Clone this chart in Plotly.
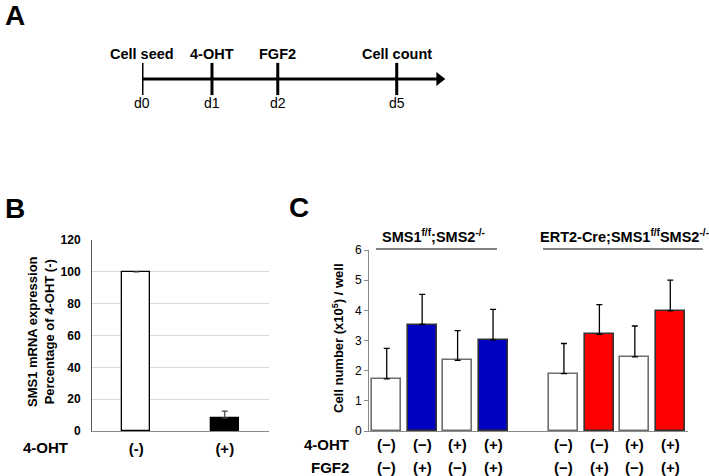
import plotly.graph_objects as go

# ---------------- data ----------------
timeline_events = ["Cell seed", "4-OHT", "FGF2", "Cell count"]
timeline_days = ["d0", "d1", "d2", "d5"]
timeline_pos = [0, 1, 1.94, 3.64]          # schematic positions on the timeline
timeline_end = 4.33

b_categories = ["(-)", "(+)"]
b_values = [100, 8.2]
b_errors = [0, 4.3]
b_colors = ["white", "black"]

c_groups = ["SMS1<sup>f/f</sup>;SMS2<sup>-/-</sup>",
            "ERT2-Cre;SMS1<sup>f/f</sup>SMS2<sup>-/-</sup>"]
c_oht = ["(\u2212)", "(\u2212)", "(+)", "(+)"]
c_fgf2 = ["(\u2212)", "(+)", "(\u2212)", "(+)"]
c_values = [[1.73, 3.53, 2.34, 3.02],
            [1.90, 3.20, 2.46, 3.98]]
c_errors = [[1.01, 1.00, 0.99, 1.01],
            [1.00, 0.99, 1.02, 1.02]]
c_group_colors = ["rgb(0,0,192)", "rgb(255,0,0)"]

# ---------------- layout helpers ----------------
W, H = 709, 476
FONT = "Liberation Sans, Arial, sans-serif"


def px(x):
    return x / W


def py(y):
    return 1 - y / H


def note(text, x, y, size, bold=True, xanchor="center", **kw):
    fig.add_annotation(x=px(x), y=py(y), xref="paper", yref="paper", text=text,
                       xanchor=xanchor, yanchor="middle", showarrow=False,
                       font=dict(size=size, weight="bold" if bold else "normal"), **kw)


fig = go.Figure()

# ---------------- Panel A: timeline ----------------
fig.add_trace(go.Scatter(x=[timeline_pos[0], timeline_end - 0.1], y=[0, 0], mode="lines",
                         line=dict(color="black", width=3), xaxis="x3", yaxis="y3",
                         showlegend=False, hoverinfo="skip"))
fig.add_trace(go.Scatter(x=[timeline_end - 0.08], y=[0], mode="markers",
                         marker=dict(symbol="triangle-right", size=12, color="black"),
                         xaxis="x3", yaxis="y3", showlegend=False, hoverinfo="skip"))
fig.add_trace(go.Scatter(x=timeline_pos, y=[0] * len(timeline_pos), mode="markers",
                         marker=dict(symbol="line-ns", size=23,
                                     line=dict(width=3, color="black")),
                         xaxis="x3", yaxis="y3", showlegend=False, hoverinfo="skip"))
for pos, ev, d in zip(timeline_pos, timeline_events, timeline_days):
    fig.add_annotation(x=pos, y=0, xref="x3", yref="y3", text=ev, showarrow=False,
                       xanchor="center", yanchor="middle",
                       yshift=25, font=dict(size=14.5, weight="bold"))
    fig.add_annotation(x=pos, y=0, xref="x3", yref="y3", text=d, showarrow=False,
                       xanchor="center", yanchor="middle",
                       yshift=-24, font=dict(size=14))

# ---------------- Panel B ----------------
fig.add_trace(go.Bar(x=b_categories, y=b_values, width=0.32,
                     marker=dict(color=b_colors, line=dict(color="black", width=1.3)),
                     error_y=dict(type="data", array=b_errors, arrayminus=[0] * len(b_errors),
                                  symmetric=False, color="#444", thickness=1.2, width=3),
                     xaxis="x", yaxis="y", showlegend=False))

# ---------------- Panel C ----------------
c_cats = []
for gi in range(len(c_groups)):
    if gi > 0:
        c_cats.append("gap")
    for j in range(len(c_oht)):
        c_cats.append(f"{gi}-{j}")

for gi in range(len(c_groups)):
    xs = [f"{gi}-{j}" for j in range(len(c_oht))]
    fills = [c_group_colors[gi] if f == "(+)" else "white" for f in c_fgf2]
    lines = ["#333" if f == "(+)" else "#6e6e6e" for f in c_fgf2]
    fig.add_trace(go.Bar(x=xs, y=c_values[gi], width=0.82,
                         marker=dict(color=fills, line=dict(color=lines, width=1.6)),
                         error_y=dict(type="data", array=c_errors[gi],
                                      arrayminus=[0] * len(c_errors[gi]), symmetric=False,
                                      color="black", thickness=1.3, width=3),
                         xaxis="x2", yaxis="y2", showlegend=False))

c_dom = [px(369), px(688)]


def slot_paper(s):
    return c_dom[0] + (s + 0.5) / len(c_cats) * (c_dom[1] - c_dom[0])


for gi in range(len(c_groups)):
    for j in range(len(c_oht)):
        cat = f"{gi}-{j}"
        fig.add_annotation(x=cat, xref="x2", y=py(444), yref="paper", text=c_oht[j],
                           xanchor="center", yanchor="middle",
                           showarrow=False, font=dict(size=15, weight="bold"))
        fig.add_annotation(x=cat, xref="x2", y=py(467), yref="paper", text=c_fgf2[j],
                           xanchor="center", yanchor="middle",
                           showarrow=False, font=dict(size=15, weight="bold"))

# group header lines and labels
fig.add_shape(type="line", xref="paper", yref="paper", x0=slot_paper(-0.3), x1=slot_paper(3.11),
              y0=py(249), y1=py(249), line=dict(color="black", width=1))
fig.add_shape(type="line", xref="paper", yref="paper", x0=slot_paper(4.41), x1=slot_paper(8.92),
              y0=py(249), y1=py(249), line=dict(color="black", width=1))
note(c_groups[0], 433.5, 236, 14.5)
note(c_groups[1], 538, 236, 14.5, xanchor="left")

# ---------------- text labels ----------------
note("A", 3, 15, 28, xanchor="left")
note("B", 3, 208, 28, xanchor="left")
note("C", 287, 207, 28, xanchor="left")

note("SMS1 mRNA expression<br>Percentage of 4-OHT (-)", 41, 332, 13, textangle=-90)
note("4-OHT", 45.5, 447, 15)

note("Cell number (x10<sup>5</sup>) / well", 338, 338, 13, textangle=-90)
note("4-OHT", 351, 444, 15, xanchor="right")
note("FGF2", 351, 467, 15, xanchor="right")

# ---------------- axes ----------------
fig.update_layout(
    template="none",
    width=W, height=H,
    margin=dict(l=0, r=0, t=0, b=0, pad=0),
    paper_bgcolor="white", plot_bgcolor="white",
    font=dict(family=FONT, color="black"),
    bargap=0,
    xaxis=dict(domain=[px(92), px(269)], range=[-0.5, 1.5], type="category",
               showline=True, linecolor="#8a8a8a", linewidth=1.3, ticks="",
               tickfont=dict(size=15, weight="bold"), ticklabelstandoff=4,
               showgrid=False, zeroline=False, fixedrange=True, automargin=False),
    yaxis=dict(domain=[py(431), py(240)], range=[0, 120], tickvals=[0, 20, 40, 60, 80, 100, 120],
               showline=True, linecolor="#555", linewidth=1, ticks="",
               showgrid=True, gridcolor="#d9d9d9", gridwidth=1, zeroline=False,
               tickfont=dict(size=12, weight="bold"), ticklabelstandoff=8, fixedrange=True,
               automargin=False),
    xaxis2=dict(domain=c_dom, range=[-0.5, len(c_cats) - 0.5], type="category",
                categoryorder="array", categoryarray=c_cats, showticklabels=False,
                showline=True, linecolor="#8a8a8a", linewidth=1.3, ticks="",
                showgrid=False, zeroline=False, anchor="y2", fixedrange=True, automargin=False),
    yaxis2=dict(domain=[py(431), py(250)], range=[0, 6], dtick=1, anchor="x2",
                showline=True, linecolor="#8a8a8a", linewidth=1, ticks="outside",
                ticklen=4, tickcolor="#8a8a8a", showgrid=False, zeroline=False,
                tickfont=dict(size=12), fixedrange=True, automargin=False),
    xaxis3=dict(domain=[px(142), px(445)], range=[0, timeline_end], visible=False,
                anchor="y3", fixedrange=True, automargin=False),
    yaxis3=dict(domain=[py(139), py(19)], range=[-1, 1], visible=False, anchor="x3",
                fixedrange=True, automargin=False),
)

fig.write_html("out.html", config={"displayModeBar": False},
               post_script="document.body.style.margin='0';document.body.style.overflow='hidden';")
